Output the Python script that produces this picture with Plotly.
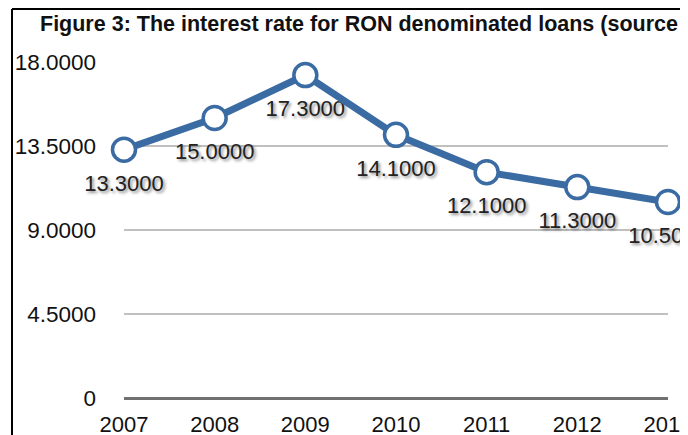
import plotly.graph_objects as go

years = ["2007", "2008", "2009", "2010", "2011", "2012", "2013"]
rates = [13.3, 15.0, 17.3, 14.1, 12.1, 11.3, 10.5]
y_tick_vals = [0, 4.5, 9, 13.5, 18]
y_tick_text = ["0", "4.5000", "9.0000", "13.5000", "18.0000"]
title_text = "Figure 3: The interest rate for RON denominated loans (source INS)"

LINE_COLOR = "#3b6ba3"
FONT = "Liberation Sans, Arial, Helvetica, sans-serif"

# The page body adds an 8px margin, so the figure is drawn 8px smaller
W, H = 680, 427
ML, MT = 116, 54
PW, PH = 544, 336

fig = go.Figure()
fig.add_trace(go.Scatter(
    x=years,
    y=rates,
    mode="markers+text",
    text=[f"{v:.4f}" for v in rates],
    textposition="bottom center",
    marker=dict(size=38, color="rgba(0,0,0,0)"),
    textfont=dict(family=FONT, size=22, color="#222222",
                  shadow="2px 2px 3px rgba(0,0,0,0.45)"),
    cliponaxis=False,
    showlegend=False,
    hoverinfo="skip",
))
fig.add_trace(go.Scatter(
    x=years,
    y=rates,
    mode="lines+markers",
    line=dict(color=LINE_COLOR, width=7),
    marker=dict(size=23, color="white", line=dict(color=LINE_COLOR, width=3.5)),
    cliponaxis=False,
    showlegend=False,
))

fig.update_layout(
    width=W,
    height=H,
    margin=dict(l=ML, r=W - ML - PW, t=MT, b=H - MT - PH),
    paper_bgcolor="white",
    plot_bgcolor="white",
    font=dict(family=FONT, color="#111111"),
    title=dict(
        text="<b>" + title_text + "</b>",
        x=32 / W, xanchor="left", xref="container",
        y=1 - 15 / H, yanchor="middle", yref="container",
        font=dict(family=FONT, size=21.5, color="#111111"),
    ),
    xaxis=dict(
        type="category",
        range=[0, 6],
        automargin=False,
        showgrid=False,
        showline=False,
        zeroline=False,
        ticks="",
        tickfont=dict(family=FONT, size=22, color="#111111"),
        ticklabelstandoff=11,
    ),
    yaxis=dict(
        range=[0, 18],
        automargin=False,
        tickvals=y_tick_vals,
        ticktext=y_tick_text,
        showgrid=True,
        gridcolor="#c0c0c0",
        gridwidth=1.5,
        zeroline=True,
        zerolinecolor="#707070",
        zerolinewidth=2.5,
        ticks="",
        tickfont=dict(family=FONT, size=22.5, color="#111111"),
        ticklabelstandoff=27,
    ),
    shapes=[
        dict(type="line", xref="paper", yref="paper",
             x0=(4 - ML) / PW, x1=(4 - ML) / PW,
             y0=(MT + PH - 1) / PH, y1=(MT + PH - 440) / PH,
             line=dict(color="black", width=2)),
        dict(type="line", xref="paper", yref="paper",
             x0=(4 - ML) / PW, x1=(700 - ML) / PW,
             y0=(MT + PH - 1) / PH, y1=(MT + PH - 1) / PH,
             line=dict(color="black", width=2)),
    ],
)

fig.write_html("out.html")
